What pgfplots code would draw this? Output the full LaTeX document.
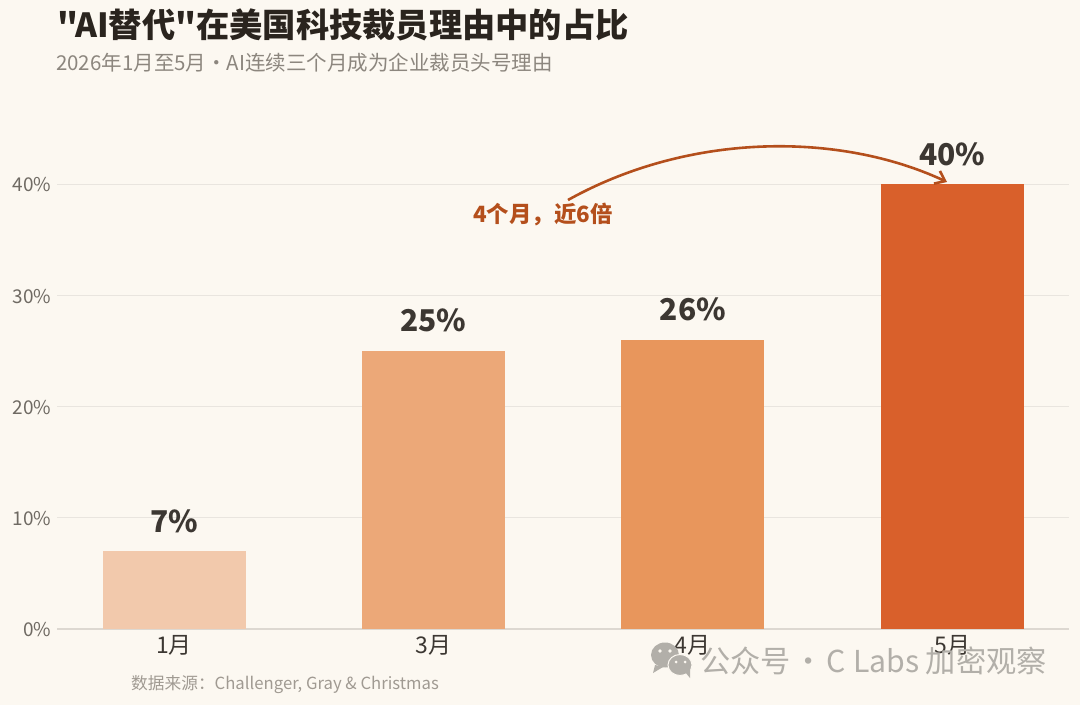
\documentclass[border=0pt]{standalone}
\usepackage{fontspec}
\setmainfont{Noto Sans CJK SC}
\newfontfamily\nomap{Noto Sans CJK SC}
\usepackage{pgfplots}
\pgfplotsset{compat=1.18}
\usetikzlibrary{arrows.meta}
\definecolor{bgc}{HTML}{FCF8F1}
\definecolor{titlec}{HTML}{2A241E}
\definecolor{subc}{HTML}{8C867E}
\definecolor{tickc}{HTML}{6F6A63}
\definecolor{catc}{HTML}{3C3732}
\definecolor{gridc}{HTML}{E9E5DF}
\definecolor{basec}{HTML}{DDD8D1}
\definecolor{annc}{HTML}{B44F1C}
\definecolor{srcc}{HTML}{A09A92}
\definecolor{wmc}{HTML}{B2AFA9}
\definecolor{barA}{HTML}{F2C9AC}
\definecolor{barB}{HTML}{ECA878}
\definecolor{barC}{HTML}{E8965C}
\definecolor{barD}{HTML}{D9602B}
\newcommand{\fs}[1]{\fontsize{#1pt}{#1pt}\selectfont}
\begin{document}
\begin{tikzpicture}[x=1pt,y=1pt]
\useasboundingbox (0,0) rectangle (1080,705);
\fill[bgc] (0,0) rectangle (1080,705);
\begin{axis}[
  at={(57pt,76pt)}, anchor=south west,
  scale only axis, width=1012pt, height=445pt,
  xmin=-0.4515, xmax=3.4505, ymin=0, ymax=40,
  clip=false,
  axis lines=left,
  axis line style={-},
  x axis line style={draw=basec,line width=1.4pt},
  y axis line style={draw=none},
  major tick length=0pt,
  ytick={0,10,20,30,40},
  yticklabel={\pgfmathprintnumber{\tick}\%},
  /pgf/number format/assume math mode=true,
  ymajorgrids,
  grid style={draw=gridc,line width=1pt},
  xtick={0,1,2,3},
  xticklabels={1月,3月,4月,5月},
  yticklabel style={text=tickc,font=\fs{19},anchor=east,xshift=-2pt,yshift=-1pt},
  xticklabel style={text=catc,font=\fs{23},anchor=center,yshift=-16pt},
  ybar, bar width=143pt, bar shift=0pt,
  nodes near coords={\pgfmathprintnumber{\pgfplotspointmeta}\%},
  every node near coord/.style={font=\bfseries\fs{30},text=catc,anchor=south,yshift=15pt},
]
\addplot[fill=barA,draw=none] coordinates {(0,7)};
\addplot[fill=barB,draw=none] coordinates {(1,25)};
\addplot[fill=barC,draw=none] coordinates {(2,26)};
\addplot[fill=barD,draw=none] coordinates {(3,40)};
\end{axis}
\node[anchor=base west,inner sep=0,text=titlec,font=\nomap\bfseries\fs{33.25}] at (57,705-38) {"AI替代"在美国科技裁员理由中的占比};
\node[anchor=base west,inner sep=0,text=subc,font=\fs{20.5}] at (56,705-71) {2026年1月至5月·AI连续三个月成为企业裁员头号理由};
\node[anchor=west,inner sep=0,text=annc,font=\bfseries\fs{22.4}] at (473,705-215) {4个月，近6倍};
\draw[annc,line width=2.6pt,-{Straight Barb[length=9pt,width=14pt]}] (568,705-200) .. controls (690,705-132) and (840,705-132) .. (947,705-182);
\node[anchor=west,inner sep=0,text=srcc,font=\fs{16.7}] at (131,705-685) {数据来源：Challenger, Gray \& Christmas};
\fill[wmc] (665,705-655) ellipse (14 and 12.5);
\fill[wmc] (655,705-665) -- (653,705-673) -- (663,705-667) -- cycle;
\fill[bgc] (660,705-651) circle (1.8) (670,705-651) circle (1.8);
\fill[wmc,draw=bgc,line width=1pt] (680,705-665) ellipse (12 and 10.5);
\fill[wmc] (685,705-672) -- (690,705-678) -- (690,705-668) -- cycle;
\fill[bgc] (676,705-662) circle (1.5) (685,705-662) circle (1.5);
\node[anchor=west,inner sep=0,text=wmc,font=\fs{30.2}] at (700,705-661) {公众号\hspace{3pt}·\hspace{3pt}C Labs 加密观察};
\end{tikzpicture}
\end{document}
